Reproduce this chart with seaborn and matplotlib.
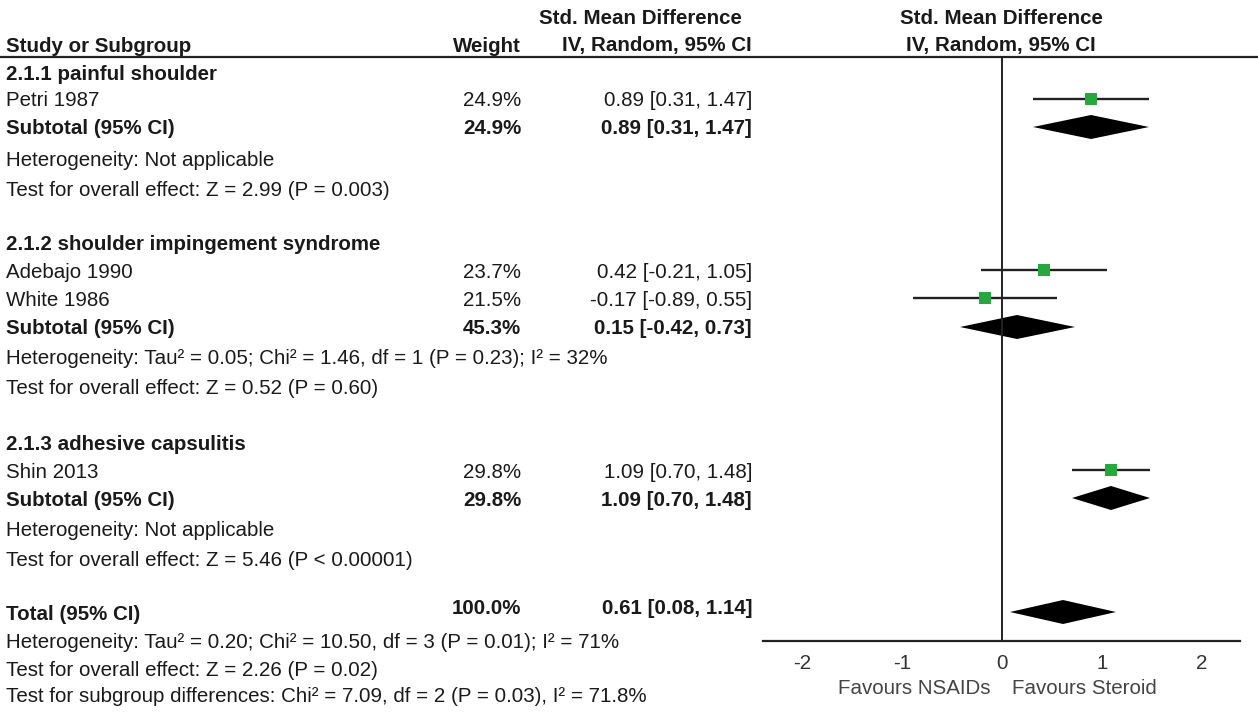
import matplotlib
matplotlib.use("Agg")
import matplotlib.pyplot as plt
import seaborn as sns
import pandas as pd

sns.set_style("white")
plt.rcParams['font.family'] = ['Liberation Sans', 'DejaVu Sans']

# study level data
studies = ["Petri 1987", "Adebajo 1990", "White 1986", "Shin 2013"]
study_weight = ["24.9%", "23.7%", "21.5%", "29.8%"]
study_smd = [0.89, 0.42, -0.17, 1.09]
study_lo = [0.31, -0.21, -0.89, 0.70]
study_hi = [1.47, 1.05, 0.55, 1.48]

# pooled estimates (3 subtotals + total)
pooled_label = ["Subtotal (95% CI)", "Subtotal (95% CI)", "Subtotal (95% CI)", "Total (95% CI)"]
pooled_weight = ["24.9%", "45.3%", "29.8%", "100.0%"]
pooled_smd = [0.89, 0.15, 1.09, 0.61]
pooled_lo = [0.31, -0.42, 0.70, 0.08]
pooled_hi = [1.47, 0.73, 1.48, 1.14]

subgroups = ["2.1.1 painful shoulder", "2.1.2 shoulder impingement syndrome",
             "2.1.3 adhesive capsulitis"]
het_text = ["Heterogeneity: Not applicable",
            "Heterogeneity: Tau\u00b2 = 0.05; Chi\u00b2 = 1.46, df = 1 (P = 0.23); I\u00b2 = 32%",
            "Heterogeneity: Not applicable",
            "Heterogeneity: Tau\u00b2 = 0.20; Chi\u00b2 = 10.50, df = 3 (P = 0.01); I\u00b2 = 71%"]
effect_text = ["Test for overall effect: Z = 2.99 (P = 0.003)",
               "Test for overall effect: Z = 0.52 (P = 0.60)",
               "Test for overall effect: Z = 5.46 (P < 0.00001)",
               "Test for overall effect: Z = 2.26 (P = 0.02)"]
subgroup_diff = "Test for subgroup differences: Chi\u00b2 = 7.09, df = 2 (P = 0.03), I\u00b2 = 71.8%"
xticks = [-2, -1, 0, 1, 2]

# row positions (pixel rows of the page)
study_y = [99, 270, 298, 470]
pooled_y = [127, 327, 498, 612]
subgroup_y = [72, 243, 443]
het_y = [159, 357, 528, 640]
effect_y = [189, 387, 558, 668]

W, H = 1258, 717
fig = plt.figure(figsize=(W / 100, H / 100), dpi=100)
ax0 = fig.add_axes([0, 0, 1, 1])
ax0.set_xlim(0, W)
ax0.set_ylim(H, 0)
ax0.axis("off")

txt = "#1a1a1a"
fs = 14.8
dy = 2  # small baseline nudge for text rows
x_name, x_w, x_ci = 6, 521, 752

ax0.text(640, 19, "Std. Mean Difference", ha="center", va="center", fontsize=fs, fontweight="bold", color=txt)
ax0.text(1001, 19, "Std. Mean Difference", ha="center", va="center", fontsize=fs, fontweight="bold", color=txt)
ax0.text(x_name, 46, "Study or Subgroup", ha="left", va="center", fontsize=fs, fontweight="bold", color=txt)
ax0.text(x_w, 46, "Weight", ha="right", va="center", fontsize=fs, fontweight="bold", color=txt)
ax0.text(x_ci, 46, "IV, Random, 95% CI", ha="right", va="center", fontsize=fs, fontweight="bold", color=txt)
ax0.text(1001, 46, "IV, Random, 95% CI", ha="center", va="center", fontsize=fs, fontweight="bold", color=txt)
ax0.hlines(57, 0, W, color="#222222", lw=1.6)

for name, y in zip(subgroups, subgroup_y):
    ax0.text(x_name, y + dy, name, ha="left", va="center", fontsize=fs, fontweight="bold", color=txt)
for name, w, m, lo, hi, y in zip(studies, study_weight, study_smd, study_lo, study_hi, study_y):
    ax0.text(x_name, y + dy, name, ha="left", va="center", fontsize=fs, color=txt)
    ax0.text(x_w, y + dy, w, ha="right", va="center", fontsize=fs, color=txt)
    ax0.text(x_ci, y + dy, f"{m:.2f} [{lo:.2f}, {hi:.2f}]", ha="right", va="center", fontsize=fs, color=txt)
for name, w, m, lo, hi, y in zip(pooled_label, pooled_weight, pooled_smd, pooled_lo, pooled_hi, pooled_y):
    yl = y - 6 if name.startswith("Total") else y
    ax0.text(x_name, y + dy, name, ha="left", va="center", fontsize=fs, fontweight="bold", color=txt)
    ax0.text(x_w, yl + dy, w, ha="right", va="center", fontsize=fs, fontweight="bold", color=txt)
    ax0.text(x_ci, yl + dy, f"{m:.2f} [{lo:.2f}, {hi:.2f}]", ha="right", va="center", fontsize=fs, fontweight="bold", color=txt)
for t, y in zip(het_text, het_y):
    ax0.text(x_name, y + dy, t, ha="left", va="center", fontsize=fs, color=txt)
for t, y in zip(effect_text, effect_y):
    ax0.text(x_name, y + dy, t, ha="left", va="center", fontsize=fs, color=txt)
ax0.text(x_name, 697, subgroup_diff, ha="left", va="center", fontsize=fs, color=txt)

# forest panel
x0, x1, ytop, ybot = 763, 1240, 57, 641
ax = fig.add_axes([x0 / W, 1 - ybot / H, (x1 - x0) / W, (ybot - ytop) / H])
ax.patch.set_alpha(0)
ax.set_xlim((x0 - 1002) / 100, (x1 - 1002) / 100)
ax.set_ylim(ybot, ytop)
for s in ["top", "right", "left"]:
    ax.spines[s].set_visible(False)
ax.spines["bottom"].set_color("#222222")
ax.spines["bottom"].set_linewidth(1.6)
ax.axvline(0, color="#222222", lw=1.4)

ax.hlines(study_y, study_lo, study_hi, color="#222222", lw=1.7)
df = pd.DataFrame({"smd": study_smd, "y": study_y})
sns.scatterplot(data=df, x="smd", y="y", marker="s", s=75, color="#27a83f",
                edgecolor="none", ax=ax, zorder=3)
for m, lo, hi, y in zip(pooled_smd, pooled_lo, pooled_hi, pooled_y):
    ax.fill([lo, m, hi, m], [y, y - 12, y, y + 12], color="black", lw=0)

ax.set_xticks(xticks)
ax.set_xticklabels([str(t) for t in xticks])
ax.tick_params(axis="x", direction="inout", length=11, width=1.4, color="#222222",
               labelsize=fs, labelcolor="#333333", pad=4)
ax.set_yticks([])
ax.set_xlabel("")
ax.set_ylabel("")

ax0.text(990, 689, "Favours NSAIDs", ha="right", va="center", fontsize=fs, color="#444444")
ax0.text(1012, 689, "Favours Steroid", ha="left", va="center", fontsize=fs, color="#444444")

fig.savefig("out.png", dpi=100)
